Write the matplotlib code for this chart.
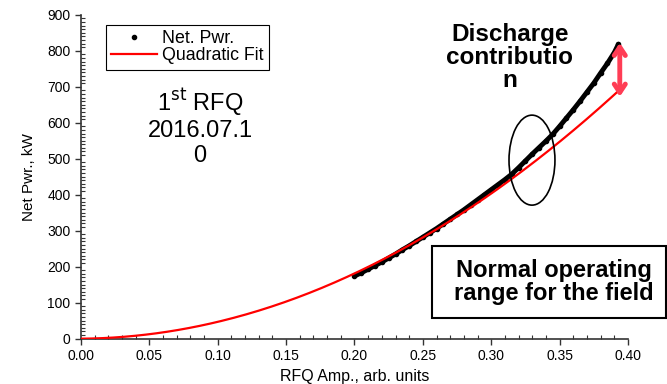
import numpy as np
import matplotlib
matplotlib.use('Agg')
from matplotlib import pyplot as plt
from matplotlib.patches import Ellipse, Rectangle
from matplotlib.ticker import MultipleLocator

plt.rcParams['font.family'] = ['Liberation Sans', 'DejaVu Sans']

amp = [0.200, 0.205, 0.210, 0.215, 0.220, 0.225, 0.230, 0.235, 0.240, 0.245,
       0.250, 0.255, 0.260, 0.265, 0.270, 0.275, 0.280, 0.285, 0.290, 0.295,
       0.300, 0.305, 0.310, 0.315, 0.320, 0.325, 0.330, 0.335, 0.340, 0.345,
       0.350, 0.355, 0.360, 0.365, 0.370, 0.375, 0.380, 0.385, 0.390, 0.393]
pwr = [174, 183, 193, 203, 213, 224, 235, 247, 258, 270,
       282, 294, 306, 319, 332, 345, 358, 372, 386, 400,
       414, 428, 442, 457, 475, 494, 513, 531, 549, 568,
       590, 613, 636, 660, 685, 710, 738, 765, 795, 818]

# Quadratic fit coefficients (a*x^2 + b*x + c)
fit_coef = [4380, 30, 0]
fit_range = (0.0, 0.393)

xticks = [0.00, 0.05, 0.10, 0.15, 0.20, 0.25, 0.30, 0.35, 0.40]
yticks = [0, 100, 200, 300, 400, 500, 600, 700, 800, 900]

fig = plt.figure(figsize=(6.67, 3.84), dpi=100)
ax = fig.add_axes([0.1214, 0.118, 0.8201, 0.8437])

xf = np.linspace(fit_range[0], fit_range[1], 300)
ax.plot(amp, pwr, c='black', lw=3.5, solid_capstyle='round', zorder=2)
ax.plot(amp, pwr, 'o', c='black', ms=3.0, label='Net. Pwr.', zorder=2)
ax.plot(xf, np.polyval(fit_coef, xf), c='red', lw=1.6, label='Quadratic Fit', zorder=3)

ax.set_xlim(0, 0.40)
ax.set_ylim(0, 900)
ax.set_xticks(xticks)
ax.set_yticks(yticks)
ax.set_xticklabels(['%.2f' % t for t in xticks])
ax.xaxis.set_minor_locator(MultipleLocator(0.01))
ax.yaxis.set_minor_locator(MultipleLocator(10))
ax.tick_params(which='major', direction='out', length=4, width=1, labelsize=10,
               colors='#333333', labelcolor='black')
ax.tick_params(which='minor', direction='in', length=3, width=0.8, colors='#333333')
for s in ['top', 'right']:
    ax.spines[s].set_visible(False)
for s in ['left', 'bottom']:
    ax.spines[s].set_color('#333333')
    ax.spines[s].set_linewidth(1.2)

ax.set_xlabel('RFQ Amp., arb. units', fontsize=11.5, labelpad=4)
ax.set_ylabel('Net Pwr., kW', fontsize=11, labelpad=8)

leg = ax.legend(loc='upper left', bbox_to_anchor=(0.045, 0.968), borderaxespad=0,
                fancybox=False, edgecolor='black', framealpha=1, fontsize=12.8,
                handlelength=2.6, borderpad=0.3, labelspacing=0.0, handletextpad=0.3)
leg.get_frame().set_linewidth(0.8)

# annotations
ax.text(0.087, 589, '1$^{\\mathrm{st}}$ RFQ\n2016.07.1\n0', ha='center', va='center',
        fontsize=17, linespacing=1.15)
ax.text(0.3137, 782, 'Discharge\ncontributio\nn', ha='center', va='center',
        fontsize=17.5, fontweight='bold', linespacing=1.0)

ax.add_patch(Ellipse((0.3298, 496), 0.0336, 250, fill=False, ec='black', lw=1.2, zorder=4))

ax.annotate('', xy=(0.394, 822), xytext=(0.394, 672),
            arrowprops=dict(arrowstyle='<->,head_length=0.6,head_width=0.4',
                            color='#ff3d55', lw=3.5, shrinkA=0, shrinkB=0))

fig.add_artist(Rectangle((0.647, 0.172), 0.352, 0.187, transform=fig.transFigure,
                         fill=False, ec='black', lw=1.5))
fig.text(0.8306, 0.2656, 'Normal operating\nrange for the field', ha='center', va='center',
         fontsize=17, fontweight='bold', linespacing=1.05)

plt.savefig('out.png', dpi=100)
